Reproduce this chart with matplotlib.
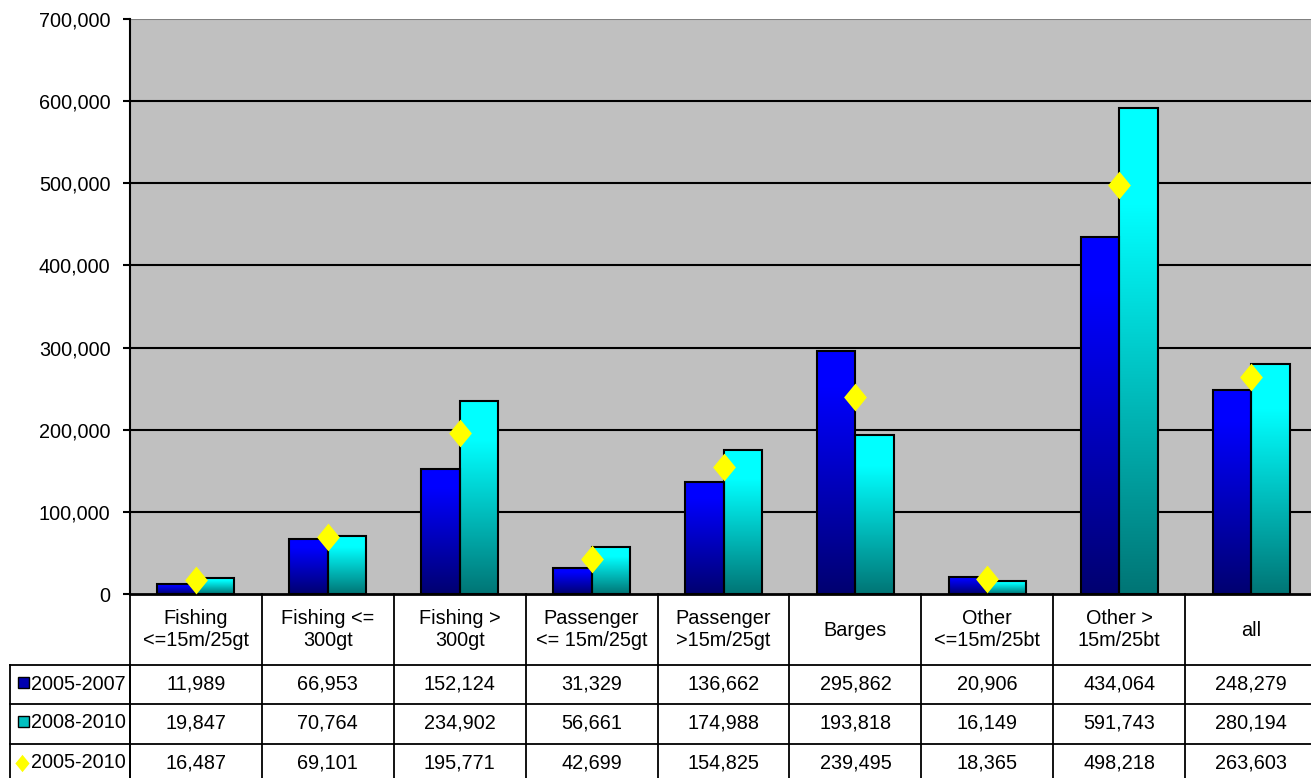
import numpy as np
import matplotlib
matplotlib.use('Agg')
import matplotlib.pyplot as plt
from matplotlib.colors import LinearSegmentedColormap
from matplotlib.patches import Rectangle
from matplotlib.transforms import blended_transform_factory
from matplotlib.lines import Line2D

plt.rcParams['font.family'] = ['Liberation Sans', 'DejaVu Sans']

# Data
categories = ['Fishing\n<=15m/25gt', 'Fishing <=\n300gt', 'Fishing >\n300gt',
              'Passenger\n<= 15m/25gt', 'Passenger\n>15m/25gt', 'Barges',
              'Other\n<=15m/25bt', 'Other >\n15m/25bt', 'all']
series_names = ['2005-2007', '2008-2010', '2005-2010']
v_0507 = [11989, 66953, 152124, 31329, 136662, 295862, 20906, 434064, 248279]
v_0810 = [19847, 70764, 234902, 56661, 174988, 193818, 16149, 591743, 280194]
v_0510 = [16487, 69101, 195771, 42699, 154825, 239495, 18365, 498218, 263603]
y_ticks = [0, 100000, 200000, 300000, 400000, 500000, 600000, 700000]

W, H = 1311, 778
FS = 14.3
fig = plt.figure(figsize=(W / 100, H / 100), dpi=100)
fig.patch.set_facecolor('white')

# plot area in pixels: x 130..1317 (runs past the right edge), y 19..594
ax = fig.add_axes([130 / W, 1 - 594 / H, (1317 - 130) / W, (594 - 19) / H])
ax.set_facecolor('#c0c0c0')

n = len(categories)
x = np.arange(n)
bw = 0.292

blue_cmap = LinearSegmentedColormap.from_list(
    'b', [(0, '#0000ff'), (0.15, '#0000ff'), (1, '#000070')])
cyan_cmap = LinearSegmentedColormap.from_list(
    'c', [(0, '#00ffff'), (0.2, '#00ffff'), (1, '#007575')])
grad = np.linspace(0, 1, 256).reshape(-1, 1)


def gradient_bar(x0, h, cmap):
    # row 0 (bright colour) sits at the top of the bar
    ax.imshow(grad, extent=[x0, x0 + bw, 0, h], cmap=cmap, aspect='auto',
              origin='upper', zorder=2, interpolation='bilinear')
    ax.add_patch(Rectangle((x0, 0), bw, h, facecolor='none',
                           edgecolor='black', lw=1.5, zorder=3))


for i in range(n):
    gradient_bar(x[i] - bw, v_0507[i], blue_cmap)
    gradient_bar(x[i], v_0810[i], cyan_cmap)

diamond = [(0, 1), (0.82, 0), (0, -1), (-0.82, 0), (0, 1)]
ax.plot(x, v_0510, linestyle='none', marker=diamond, markersize=20,
        color='#ffff00', markeredgewidth=0, zorder=4)

ax.set_xlim(-0.5, n - 0.5)
ax.set_ylim(0, 700000)
ax.set_yticks(y_ticks)
ax.set_yticklabels([f'{t:,}' for t in y_ticks], fontsize=FS)
ax.set_xticks([])
for t in y_ticks[1:-1]:
    ax.axhline(t, color='black', lw=1.5, zorder=1)
ax.axhline(700000, color='#808080', lw=1.5, zorder=1)
ax.tick_params(axis='y', direction='out', length=5, width=1.5, pad=9)
for s in ['top', 'right']:
    ax.spines[s].set_visible(False)
ax.spines['left'].set_linewidth(1.5)
ax.spines['bottom'].set_linewidth(2)

# data table below the chart
tr = blended_transform_factory(ax.transData, fig.transFigure)
trf = fig.transFigure


def fy(py):
    return 1 - py / H


def fx(px):
    return px / W


lc = 'black'
lw = 1.3
header_bot, row_lines = 665, [665, 704, 744]

# vertical lines between categories
for b in np.arange(n + 1) - 0.5:
    fig.add_artist(Line2D([b, b], [fy(594), fy(790)], transform=tr,
                          color=lc, lw=lw))
# left column verticals
for px in [10, 130]:
    fig.add_artist(Line2D([fx(px), fx(px)], [fy(header_bot), fy(790)],
                          transform=trf, color=lc, lw=lw))
for py in row_lines:
    fig.add_artist(Line2D([fx(10), fx(1311)], [fy(py), fy(py)],
                          transform=trf, color=lc, lw=lw))

# header text
for i, c in enumerate(categories):
    fig.text(x[i], fy(630), c, transform=tr, ha='center', va='center',
             fontsize=FS, linespacing=1.2)

rows = [v_0507, v_0810, v_0510]
row_y = [684, 723, 763]
for r, (name, vals, py) in enumerate(zip(series_names, rows, row_y)):
    for i, v in enumerate(vals):
        fig.text(x[i], fy(py), f'{v:,}', transform=tr, ha='center',
                 va='center', fontsize=FS)
    fig.text(fx(30.5), fy(py), name, transform=trf, ha='left', va='center',
             fontsize=FS)

# legend keys in the table
fig.add_artist(Rectangle((fx(18), fy(688)), 11 / W, 11 / H, transform=trf,
                         facecolor='#0000b0', edgecolor='black', lw=1))
fig.add_artist(Rectangle((fx(18), fy(727)), 11 / W, 11 / H, transform=trf,
                         facecolor='#00c0c0', edgecolor='black', lw=1))
fig.add_artist(Line2D([fx(22)], [fy(763)], transform=trf, marker=diamond,
                      markersize=12.5, color='#ffff00', markeredgewidth=0,
                      linestyle='none'))

fig.savefig('out.png', dpi=100, facecolor='white')
